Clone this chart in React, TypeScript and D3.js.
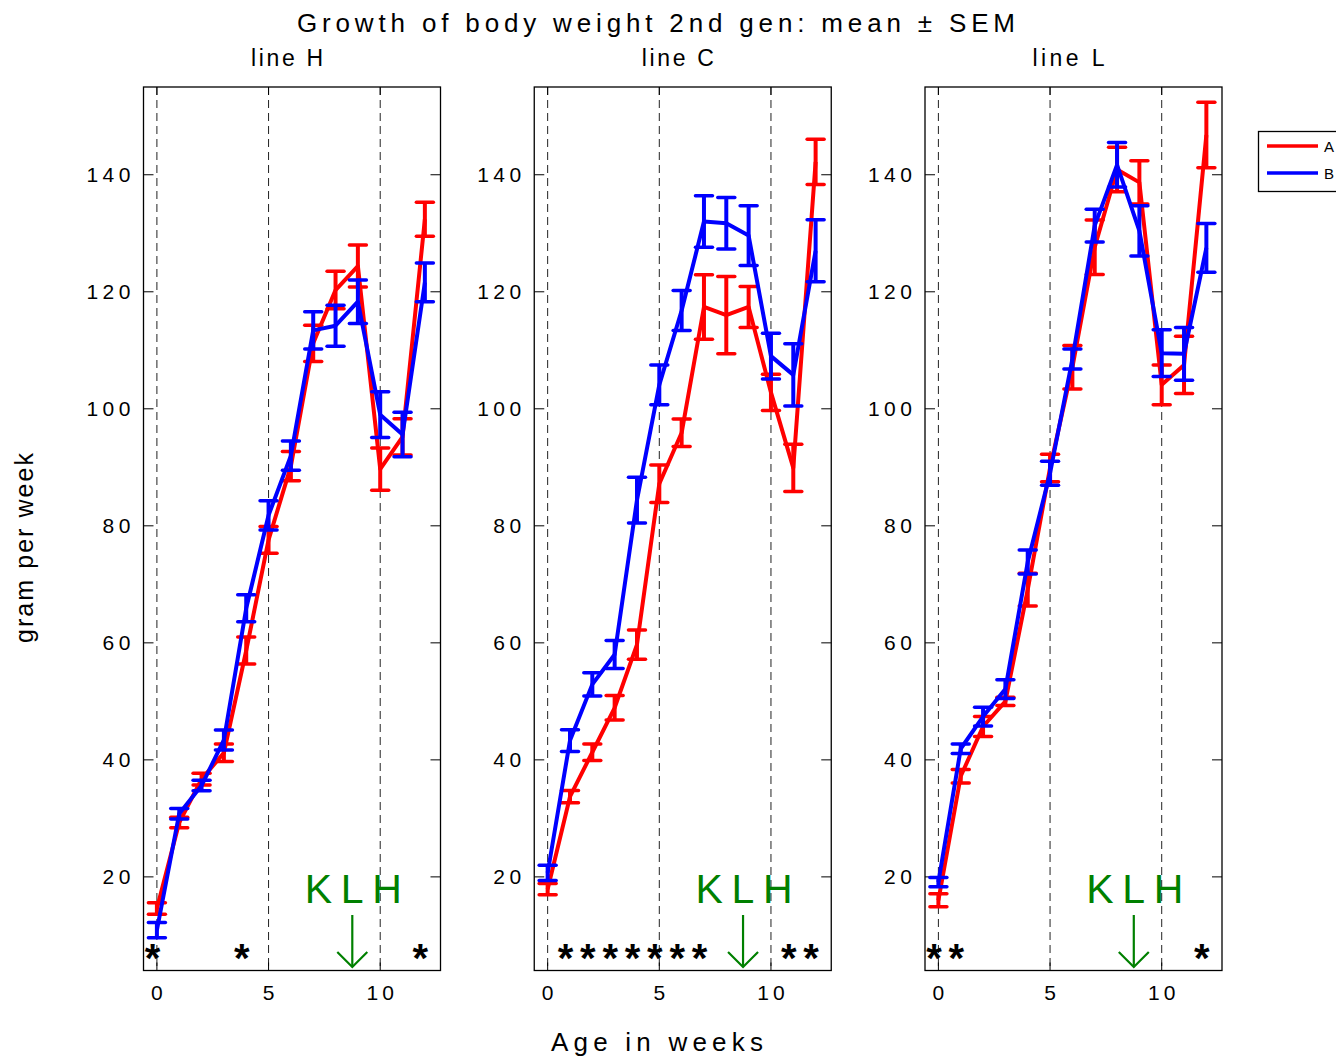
import React, { useRef, useEffect } from 'react';
import * as d3 from 'd3';

// weeks of age (x positions)
const weeks = [0, 1, 2, 3, 4, 5, 6, 7, 8, 9, 10, 11, 12];

const panelNames = ['line H', 'line C', 'line L'];
const seriesNames = ['A', 'B'];
const seriesColors = ['#ff0000', '#0000ff'];

// line H
const meanA_H = [14.6, 29.3, 36.7, 41.2, 58.7, 77.6, 90.2, 111.2, 120.3, 124.4, 89.7, 95.2, 132.4];
const semA_H = [1.0, 0.9, 1.0, 1.5, 2.3, 2.3, 2.5, 3.1, 3.2, 3.6, 3.6, 3.1, 2.9];
const meanB_H = [10.9, 30.8, 35.6, 43.4, 65.9, 81.8, 92.0, 113.4, 114.2, 118.3, 99.0, 95.6, 121.6];
const semB_H = [1.3, 0.9, 0.9, 1.7, 2.3, 2.5, 2.5, 3.2, 3.5, 3.7, 3.9, 3.8, 3.3];

// line C
const meanA_C = [17.9, 33.7, 41.3, 48.9, 59.7, 87.2, 95.9, 117.4, 116.0, 117.4, 102.8, 89.9, 142.2];
const semA_C = [0.95, 1.05, 1.4, 2.1, 2.5, 3.2, 2.35, 5.5, 6.6, 3.5, 3.1, 4.05, 3.85];
const meanB_C = [20.7, 43.3, 52.9, 58.0, 84.4, 104.1, 116.8, 132.0, 131.7, 129.6, 109.0, 105.8, 127.0];
const semB_C = [1.3, 1.85, 2.0, 2.4, 3.9, 3.4, 3.4, 4.4, 4.4, 5.1, 3.9, 5.3, 5.3];

// line L
const meanA_L = [16.0, 37.2, 45.7, 50.0, 69.1, 89.9, 107.1, 127.6, 140.9, 138.7, 104.1, 107.5, 146.8];
const semA_L = [1.1, 1.15, 1.7, 0.7, 2.8, 2.35, 3.7, 4.65, 3.8, 3.7, 3.4, 4.9, 5.6];
const meanB_L = [19.1, 41.9, 47.4, 52.1, 73.8, 89.0, 108.5, 131.3, 141.7, 130.4, 109.5, 109.4, 127.5];
const semB_L = [0.8, 0.8, 1.6, 1.6, 2.05, 2.05, 1.7, 2.8, 3.8, 4.3, 4.0, 4.5, 4.15];

// weeks marked with a significance star
const starsH = [0, 4, 12];
const starsC = [1, 2, 3, 4, 5, 6, 7, 11, 12];
const starsL = [0, 1, 12];

const yTicks = [20, 40, 60, 80, 100, 120, 140];
const xTicks = [0, 5, 10];
const dashWeeks = [0, 5, 10];
const klhWeek = 8.75;

const FONT = '"Liberation Sans", Arial, Helvetica, sans-serif';

const App = () => {
  const svgRef = useRef<SVGSVGElement | null>(null);

  useEffect(() => {
    const svg = d3.select(svgRef.current);
    svg.selectAll('*').remove();

    const width = 1336;
    const height = 1058;
    const panelW = 297;
    const top = 87;
    const bottom = 970.5;

    const panels = [
      { name: panelNames[0], A: [meanA_H, semA_H], B: [meanB_H, semB_H], stars: starsH },
      { name: panelNames[1], A: [meanA_C, semA_C], B: [meanB_C, semB_C], stars: starsC },
      { name: panelNames[2], A: [meanA_L, semA_L], B: [meanB_L, semB_L], stars: starsL },
    ];

    const y = d3.scaleLinear().domain([4, 155]).range([bottom, top]);

    svg.append('rect').attr('width', width).attr('height', height).attr('fill', '#fff');

    panels.forEach((p, pi) => {
      const left = 143.5 + pi * 390.75;
      const x = d3.scaleLinear().domain([-0.6, 12.7]).range([left, left + panelW]);
      const g = svg.append('g');

      // dashed week markers
      dashWeeks.forEach(w => {
        g.append('line')
          .attr('x1', x(w)).attr('x2', x(w))
          .attr('y1', top).attr('y2', bottom)
          .attr('stroke', '#222')
          .attr('stroke-width', 1)
          .attr('stroke-dasharray', '8,5');
      });

      // frame
      g.append('rect')
        .attr('x', left).attr('y', top)
        .attr('width', panelW).attr('height', bottom - top)
        .attr('fill', 'none')
        .attr('stroke', '#000')
        .attr('stroke-width', 1.3);

      // y ticks inside both sides
      yTicks.forEach(t => {
        g.append('line').attr('x1', left).attr('x2', left + 10)
          .attr('y1', y(t)).attr('y2', y(t)).attr('stroke', '#000').attr('stroke-width', 1);
        g.append('line').attr('x1', left + panelW - 10).attr('x2', left + panelW)
          .attr('y1', y(t)).attr('y2', y(t)).attr('stroke', '#000').attr('stroke-width', 1);
        const lbl = String(t);
        g.append('text')
          .attr('x', left - 13)
          .attr('y', y(t) + 7.5)
          .attr('text-anchor', 'end')
          .attr('font-family', FONT)
          .attr('font-size', 21)
          .attr('textLength', lbl.length * 11.7 + (lbl.length - 1) * 4.5)
          .attr('lengthAdjust', 'spacing')
          .text(lbl);
      });

      // x ticks inside bottom and top
      xTicks.forEach(t => {
        g.append('line').attr('x1', x(t)).attr('x2', x(t))
          .attr('y1', bottom).attr('y2', bottom - 8).attr('stroke', '#000').attr('stroke-width', 1);
        g.append('line').attr('x1', x(t)).attr('x2', x(t))
          .attr('y1', top).attr('y2', top + 8).attr('stroke', '#000').attr('stroke-width', 1);
        const lbl = String(t);
        g.append('text')
          .attr('x', x(t))
          .attr('y', 1000)
          .attr('text-anchor', 'middle')
          .attr('font-family', FONT)
          .attr('font-size', 21)
          .attr('textLength', lbl.length * 11.7 + (lbl.length - 1) * 4)
          .attr('lengthAdjust', 'spacing')
          .text(lbl);
      });

      // panel title
      g.append('text')
        .attr('x', left + panelW / 2 - 5)
        .attr('y', 66)
        .attr('text-anchor', 'middle')
        .attr('font-family', FONT)
        .attr('font-size', 23)
        .attr('textLength', 72)
        .attr('lengthAdjust', 'spacing')
        .text(p.name);

      // series: red first, blue on top
      [p.A, p.B].forEach((s, si) => {
        const [means, sems] = s;
        const color = seriesColors[si];
        const line = d3.line<number>()
          .x((d, i) => x(weeks[i]))
          .y(d => y(d));
        g.append('path')
          .attr('d', line(means))
          .attr('fill', 'none')
          .attr('stroke', color)
          .attr('stroke-width', 4)
          .attr('stroke-linejoin', 'round');

        const eb = g.append('g');
        weeks.forEach((w, i) => {
          const lo = y(means[i] - sems[i]);
          const hi = y(means[i] + sems[i]);
          eb.append('line')
            .attr('x1', x(w)).attr('x2', x(w))
            .attr('y1', lo).attr('y2', hi)
            .attr('stroke', color).attr('stroke-width', 4);
          [lo, hi].forEach(yy => {
            eb.append('line')
              .attr('x1', x(w) - 8.5).attr('x2', x(w) + 8.5)
              .attr('y1', yy).attr('y2', yy)
              .attr('stroke', color).attr('stroke-width', 3.5)
              .attr('stroke-linecap', 'round');
          });
        });
      });

      // significance stars
      p.stars.forEach(w => {
        g.append('text')
          .attr('x', x(w - 0.2))
          .attr('y', 972)
          .attr('text-anchor', 'middle')
          .attr('font-family', FONT)
          .attr('font-size', 40)
          .attr('font-weight', 'bold')
          .attr('fill', '#000')
          .text('*');
      });

      // KLH marker
      const green = '#008000';
      g.append('text')
        .attr('x', x(klhWeek) + 1)
        .attr('y', 903)
        .attr('text-anchor', 'middle')
        .attr('font-family', FONT)
        .attr('font-size', 41)
        .attr('fill', green)
        .attr('textLength', 97)
        .attr('lengthAdjust', 'spacing')
        .text('KLH');
      const ax = x(klhWeek);
      g.append('line').attr('x1', ax).attr('x2', ax).attr('y1', 915).attr('y2', 966)
        .attr('stroke', green).attr('stroke-width', 2.2);
      g.append('path')
        .attr('d', `M${ax - 15},${952} L${ax},${967} L${ax + 15},${952}`)
        .attr('fill', 'none')
        .attr('stroke', green)
        .attr('stroke-width', 2.2);
    });

    // main title
    svg.append('text')
      .attr('x', 656)
      .attr('y', 32)
      .attr('text-anchor', 'middle')
      .attr('font-family', FONT)
      .attr('font-size', 26)
      .attr('textLength', 718)
      .attr('lengthAdjust', 'spacing')
      .text('Growth of body weight 2nd gen: mean ± SEM');

    // axis labels
    svg.append('text')
      .attr('transform', 'translate(33, 548) rotate(-90)')
      .attr('text-anchor', 'middle')
      .attr('font-family', FONT)
      .attr('font-size', 25)
      .attr('textLength', 190)
      .attr('lengthAdjust', 'spacing')
      .text('gram per week');

    svg.append('text')
      .attr('x', 657)
      .attr('y', 1051)
      .attr('text-anchor', 'middle')
      .attr('font-family', FONT)
      .attr('font-size', 26)
      .attr('textLength', 212)
      .attr('lengthAdjust', 'spacing')
      .text('Age in weeks');

    // legend (partly cut off at the right edge)
    const lg = svg.append('g');
    lg.append('rect')
      .attr('x', 1258.5).attr('y', 131.5)
      .attr('width', 100).attr('height', 60)
      .attr('fill', '#fff').attr('stroke', '#000').attr('stroke-width', 1.3);
    seriesNames.forEach((n, i) => {
      const ly = 146 + i * 27;
      lg.append('line')
        .attr('x1', 1267).attr('x2', 1318)
        .attr('y1', ly).attr('y2', ly)
        .attr('stroke', seriesColors[i]).attr('stroke-width', 3.5);
      lg.append('text')
        .attr('x', 1324)
        .attr('y', ly + 6)
        .attr('font-family', FONT)
        .attr('font-size', 15)
        .text(n);
    });
  }, []);

  return (
    <div style={{ position: 'absolute', left: 0, top: 0 }}>
      <svg ref={svgRef} width={1336} height={1058} style={{ display: 'block' }} />
    </div>
  );
};

export default App;
